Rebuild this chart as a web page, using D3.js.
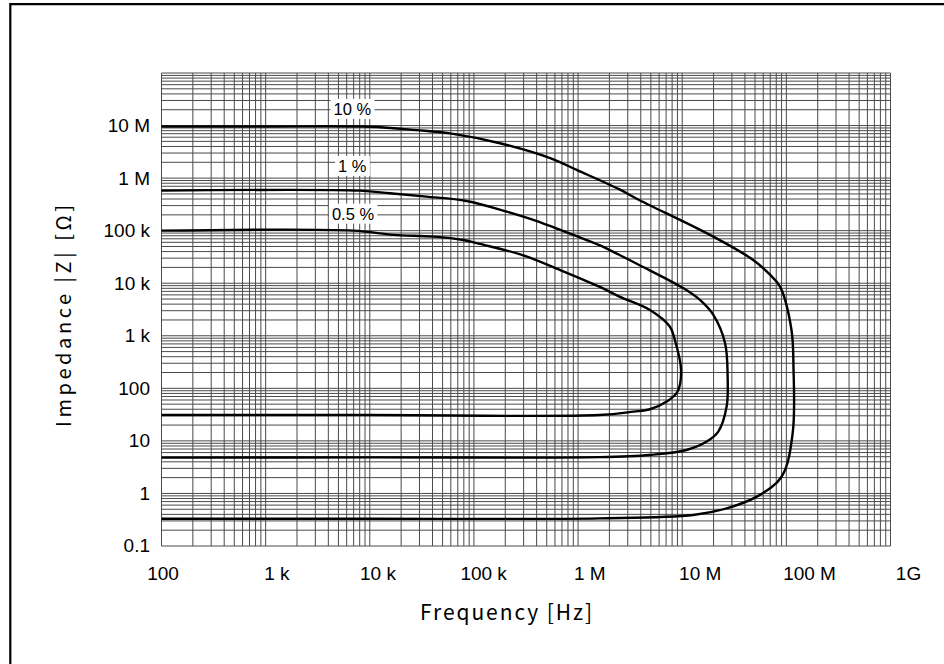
<!DOCTYPE html>
<html>
<head>
<meta charset="utf-8">
<script src="https://cdn.jsdelivr.net/npm/d3@7"></script>
<style>
  html, body { margin: 0; padding: 0; background: #fff; }
  svg { display: block; }
</style>
</head>
<body>
<svg id="chart" width="944" height="664"></svg>
<script>
// ---------- data ----------
// curves traced clockwise: top flat -> right turn -> bottom flat back to 100 Hz
const curve10 = [
  [100, 9.6e6], [1e3, 9.6e6], [1e4, 9.5e6], [2.8e4, 8.2e6], [5.9e4, 7.1e6],
  [1.78e5, 4.6e6], [5.4e5, 2.4e6], [9.7e5, 1.43e6], [2.5e6, 6.1e5], [3.9e6, 3.8e5],
  [1.85e7, 8.3e4], [4.8e7, 2.77e4], [7.0e7, 1.44e4], [8.7e7, 8.6e3], [1.12e8, 1.29e3],
  [1.17e8, 258], [1.15e8, 14], [9e7, 2.08], [5.2e7, 0.87], [2.67e7, 0.52],
  [1.28e7, 0.39], [1.6e6, 0.336], [1e4, 0.33], [100, 0.33]
];
const curve1 = [
  [100, 5.78e5], [8e3, 5.77e5], [1.56e4, 5.14e5], [3.5e4, 4.44e5], [8.5e4, 3.67e5],
  [2.07e5, 2.3e5], [3.72e5, 1.6e5], [9e5, 8.3e4], [1.6e6, 5.3e4], [2.53e6, 3.4e4],
  [3.9e6, 2.2e4], [1.03e7, 8e3], [1.48e7, 4.8e3], [1.99e7, 2.49e3], [2.58e7, 720],
  [2.73e7, 167], [2.67e7, 45], [2.22e7, 15], [1.72e7, 9.7], [1.1e7, 6.7],
  [4.9e6, 5.4], [1.6e6, 4.9], [1e4, 4.85], [100, 4.8]
];
const curve05 = [
  [100, 1e5], [6.9e3, 1e5], [1.68e4, 8.3e4], [4.07e4, 7.7e4], [7.9e4, 6.65e4],
  [1.14e5, 5.6e4], [2.98e5, 3.4e4], [6.7e5, 1.79e4], [1.6e6, 8.6e3], [2.53e6, 5.5e3],
  [4.9e6, 3.1e3], [7.6e6, 1.5e3], [8.5e6, 832], [9.75e6, 223], [9e6, 86],
  [7.1e6, 56], [4.9e6, 40], [3.4e6, 36], [1.6e6, 31], [1e4, 31], [100, 31]
];
const seriesNames = ["10 %", "1 %", "0.5 %"];
const seriesLabelFreq = [6.8e3, 6.8e3, 6.9e3];
const seriesLabelZ = [2.07e7, 1.7e6, 2.1e5];

const xTickValues = [1e2, 1e3, 1e4, 1e5, 1e6, 1e7, 1e8, 1e9];
const xTickLabels = ["100", "1 k", "10 k", "100 k", "1 M", "10 M", "100 M", "1G"];
const yTickValues = [1e7, 1e6, 1e5, 1e4, 1e3, 1e2, 10, 1, 0.1];
const yTickLabels = ["10 M", "1 M", "100 k", "10 k", "1 k", "100", "10", "1", "0.1"];

const xTitle = "Frequency [Hz]";
const yTitle = "Impedance |Z| [Ω]";

// ---------- layout ----------
const W = 944, H = 664;
const plot = { left: 161.5, right: 890.5, top: 73, bottom: 546 };
const xLabelDx = [1.5, 11.3, 8.2, 9.7, 11.7, 18, 23.2, 18];

const svg = d3.select("#chart");

const x = d3.scaleLog().domain([1e2, 1e9]).range([plot.left, plot.right]);
const y = d3.scaleLog().domain([0.1, 1e8]).range([plot.bottom, plot.top]);

// outer frame (top + left only)
svg.append("path")
  .attr("d", `M10.3,${H} L10.3,4.2 L${W},4.2`)
  .attr("fill", "none").attr("stroke", "#000").attr("stroke-width", 2.2);

// grid
const gridColor = "#4a4a4a";
const g = svg.append("g");
const xGrid = [];
for (let d = 2; d < 9; d++) for (let k = 1; k <= 9; k++) xGrid.push(k * Math.pow(10, d));
xGrid.push(1e9);
const yGrid = [];
for (let d = -1; d < 8; d++) for (let k = 1; k <= 9; k++) yGrid.push(k * Math.pow(10, d));
yGrid.push(1e8);

g.selectAll("line.vg").data(xGrid).join("line")
  .attr("x1", d => x(d)).attr("x2", d => x(d))
  .attr("y1", plot.top).attr("y2", plot.bottom)
  .attr("stroke", gridColor).attr("stroke-width", 1);
g.selectAll("line.hg").data(yGrid).join("line")
  .attr("y1", d => y(d)).attr("y2", d => y(d))
  .attr("x1", plot.left).attr("x2", plot.right)
  .attr("stroke", gridColor).attr("stroke-width", 1);

// series labels with white boxes
const lab = svg.append("g");
seriesNames.forEach((name, i) => {
  const t = lab.append("text")
    .attr("x", x(seriesLabelFreq[i]))
    .attr("y", y(seriesLabelZ[i]))
    .attr("dy", "0.36em")
    .attr("text-anchor", "middle")
    .attr("font-family", "'Liberation Sans', Arial, sans-serif")
    .attr("font-size", 16.5)
    .attr("fill", "#000")
    .text(name);
  const bb = t.node().getBBox();
  lab.insert("rect", "text")
    .attr("x", bb.x - 3).attr("y", bb.y - 1)
    .attr("width", bb.width + 6).attr("height", bb.height + 2)
    .attr("fill", "#fff");
});

// curves
const line = d3.line()
  .x(d => x(d[0])).y(d => y(d[1]))
  .curve(d3.curveCatmullRom.alpha(0.5));
[curve10, curve1, curve05].forEach(c => {
  svg.append("path")
    .attr("d", line(c))
    .attr("fill", "none")
    .attr("stroke", "#000")
    .attr("stroke-width", 2.4)
    .attr("stroke-linejoin", "round");
});

// tick labels
const tickFont = "'Liberation Sans', Arial, sans-serif";
svg.append("g").selectAll("text").data(xTickValues).join("text")
  .attr("x", (d, i) => x(d) + xLabelDx[i])
  .attr("y", 580)
  .attr("text-anchor", "middle")
  .attr("font-family", tickFont)
  .attr("font-size", 19)
  .attr("fill", "#000")
  .text((d, i) => xTickLabels[i]);

svg.append("g").selectAll("text").data(yTickValues).join("text")
  .attr("x", 150)
  .attr("y", d => y(d))
  .attr("dy", "0.34em")
  .attr("text-anchor", "end")
  .attr("font-family", tickFont)
  .attr("font-size", 19)
  .attr("fill", "#000")
  .text((d, i) => yTickLabels[i]);

// axis titles
const titleFont = "'Noto Sans CJK JP', 'Noto Sans', sans-serif";
svg.append("text")
  .attr("x", 506).attr("y", 620)
  .attr("text-anchor", "middle")
  .attr("font-family", titleFont)
  .attr("font-size", 21)
  .attr("textLength", 172)
  .attr("lengthAdjust", "spacing")
  .attr("fill", "#000")
  .text(xTitle);

svg.append("text")
  .attr("transform", "translate(71,316) rotate(-90)")
  .attr("text-anchor", "middle")
  .attr("font-family", titleFont)
  .attr("font-size", 20)
  .attr("textLength", 222)
  .attr("lengthAdjust", "spacing")
  .attr("fill", "#000")
  .text(yTitle);
</script>
</body>
</html>
